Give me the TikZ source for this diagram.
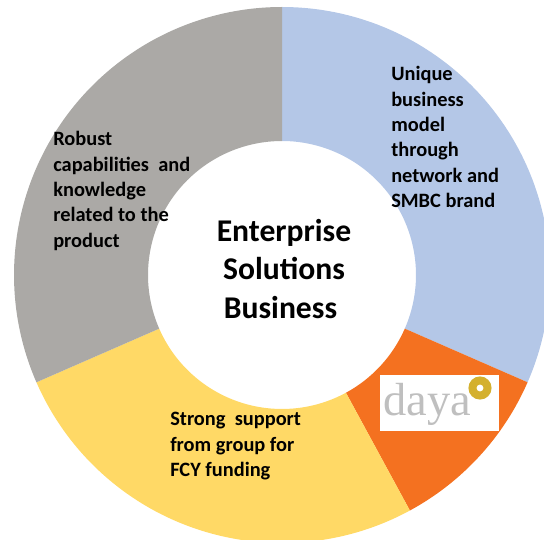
\documentclass[tikz,border=0pt]{standalone}
\usepackage{fontspec}
\setmainfont{Carlito}
\definecolor{ringblue}{HTML}{B4C7E7}
\definecolor{ringorange}{HTML}{F47120}
\definecolor{ringyellow}{HTML}{FFD966}
\definecolor{ringgrey}{HTML}{ABA9A6}
\definecolor{logogold}{HTML}{D4B02E}
\tikzset{
  bodytext/.style={align=left, anchor=north west, inner sep=0pt, font=\fontsize{14.5}{18.1}\selectfont\bfseries},
  titletext/.style={align=center, inner sep=0pt, font=\fontsize{22.5}{27.3}\selectfont\bfseries},
}
\begin{document}
\begin{tikzpicture}[x=0.025cm, y=0.025cm]

        \useasboundingbox (-282,-264) rectangle (262,275);
        \clip (-282,-264) rectangle (262,275);

        % Ring
        \fill[ringblue] (90:268) arc (90:-23.6:268) -- (-23.6:134) arc (-23.6:90:134) -- cycle;
        \fill[ringorange] (-23.6:268) arc (-23.6:-61.5:268) -- (-61.5:134) arc (-61.5:-23.6:134) -- cycle;
        \fill[ringyellow] (-61.5:268) arc (-61.5:-156.4:268) -- (-156.4:134) arc (-156.4:-61.5:134) -- cycle;
        \fill[ringgrey] (-156.4:268) arc (-156.4:-270:268) -- (-270:134) arc (-270:-156.4:134) -- cycle;

        % Logo
        \fill[white] (98,-156) rectangle (217,-100);
        \node[inner sep=0pt, anchor=base west, text=gray!50, font=\fontsize{33}{33}\selectfont\fontspec{Liberation Serif}] (daya) at (101,-140) {daya};
        \draw[logogold, line width=5.7pt] (198,-113) circle (7.5);

        % Labels
        \node[bodytext] (unique) at (109,209) {Unique\\business\\model\\through\\network and\\SMBC brand};
        \node[bodytext] (robust) at (-229,144) {Robust\\capabilities~ and\\knowledge\\related to the\\product};
        \node[bodytext] (strong) at (-112,-137) {Strong~ support\\from group for\\FCY funding};
        \node[titletext] (title) at (2,6) {Enterprise\\Solutions\\Business\hspace*{5pt}};

\end{tikzpicture}
\end{document}
